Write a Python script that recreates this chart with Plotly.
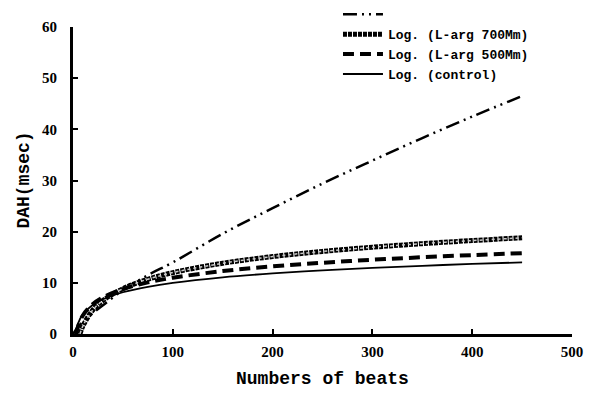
import plotly.graph_objects as go

# Numbers of beats (x) sample points
x_ctrl = [2.3, 5, 10, 20, 30, 50, 75, 100, 150, 200, 250, 300, 350, 400, 450]
y_ctrl = [0.0, 2.03, 3.88, 5.72, 6.80, 8.16, 9.23, 10.0, 11.08, 11.84, 12.44, 12.92, 13.33, 13.69, 14.0]

x_500 = [3.2, 5, 10, 20, 30, 50, 75, 100, 150, 200, 250, 300, 350, 400, 450]
y_500 = [0.0, 1.44, 3.66, 5.87, 7.16, 8.79, 10.08, 11.0, 12.30, 13.21, 13.92, 14.51, 15.0, 15.42, 15.8]

x_700 = [7, 10, 20, 30, 50, 75, 100, 150, 200, 250, 300, 350, 400, 450]
y_700 = [0.0, 1.59, 4.72, 6.55, 8.86, 10.69, 12.0, 13.83, 15.13, 16.14, 16.96, 17.66, 18.26, 18.8]

x_dd = [0, 5, 10, 20, 30, 50, 75, 100, 150, 200, 250, 300, 350, 400, 450]
y_dd = [0.0, 1.39, 2.38, 4.09, 5.6, 8.6, 11.5, 14.0, 19.6, 24.6, 29.4, 33.9, 38.3, 42.5, 46.5]

x_ticks = [0, 100, 200, 300, 400, 500]
y_ticks = [0, 10, 20, 30, 40, 50, 60]

x_title = "Numbers of beats"
y_title = "DAH(msec)"

fig = go.Figure()

fig.add_trace(go.Scatter(x=x_dd, y=y_dd, mode="lines", name=" ",
                         line=dict(color="black", width=2.5, dash="14px,5px,2px,5px,2px,5px"),
                         line_shape="spline"))
fig.add_trace(go.Scatter(x=x_700, y=y_700, mode="lines", name="Log. (L-arg 700Mm)",
                         line=dict(color="black", width=5, dash="4px,1px"),
                         line_shape="spline"))
fig.add_trace(go.Scatter(x=x_700, y=y_700, mode="lines", showlegend=False, hoverinfo="skip",
                         line=dict(color="#c8c8c8", width=1.5, dash="dot"),
                         line_shape="spline"))
fig.add_trace(go.Scatter(x=x_500, y=y_500, mode="lines", name="Log. (L-arg 500Mm)",
                         line=dict(color="black", width=4, dash="11px,6px"),
                         line_shape="spline"))
fig.add_trace(go.Scatter(x=x_ctrl, y=y_ctrl, mode="lines", name="Log. (control)",
                         line=dict(color="black", width=1.8),
                         line_shape="spline"))

serif_bold = dict(family="Liberation Serif", size=15, color="black", weight="bold")
mono_bold = dict(family="Liberation Mono", size=18, color="black", weight="bold")

fig.update_layout(
    width=593, height=401,
    margin=dict(l=65, r=29, t=19, b=75, autoexpand=False),
    paper_bgcolor="white", plot_bgcolor="white",
    showlegend=True,
    legend=dict(x=0.531, y=1.09, xanchor="left", yanchor="top",
                font=dict(family="Liberation Mono", size=13, color="black", weight="bold"),
                bgcolor="rgba(0,0,0,0)", tracegroupgap=0, itemwidth=40),
    xaxis=dict(range=[0, 500], tickvals=x_ticks, showgrid=False, zeroline=False,
               showline=True, linecolor="black", linewidth=3, ticks="inside", ticklen=5,
               tickwidth=1.5, tickcolor="black", tickfont=serif_bold, ticklabelstandoff=2),
    yaxis=dict(range=[0, 60], tickvals=y_ticks, showgrid=False, zeroline=False,
               showline=True, linecolor="black", linewidth=3, ticks="inside", ticklen=5,
               tickwidth=1.5, tickcolor="black", tickfont=serif_bold, ticklabelstandoff=10),
    annotations=[
        dict(text=x_title, xref="paper", yref="paper", x=0.5, y=-0.145,
             xanchor="center", yanchor="middle", showarrow=False, font=mono_bold),
        dict(text=y_title, xref="paper", yref="paper", x=-0.1, y=0.5,
             xanchor="center", yanchor="middle", showarrow=False, textangle=-90, font=mono_bold),
    ],
)

fig.write_html("out.html")
